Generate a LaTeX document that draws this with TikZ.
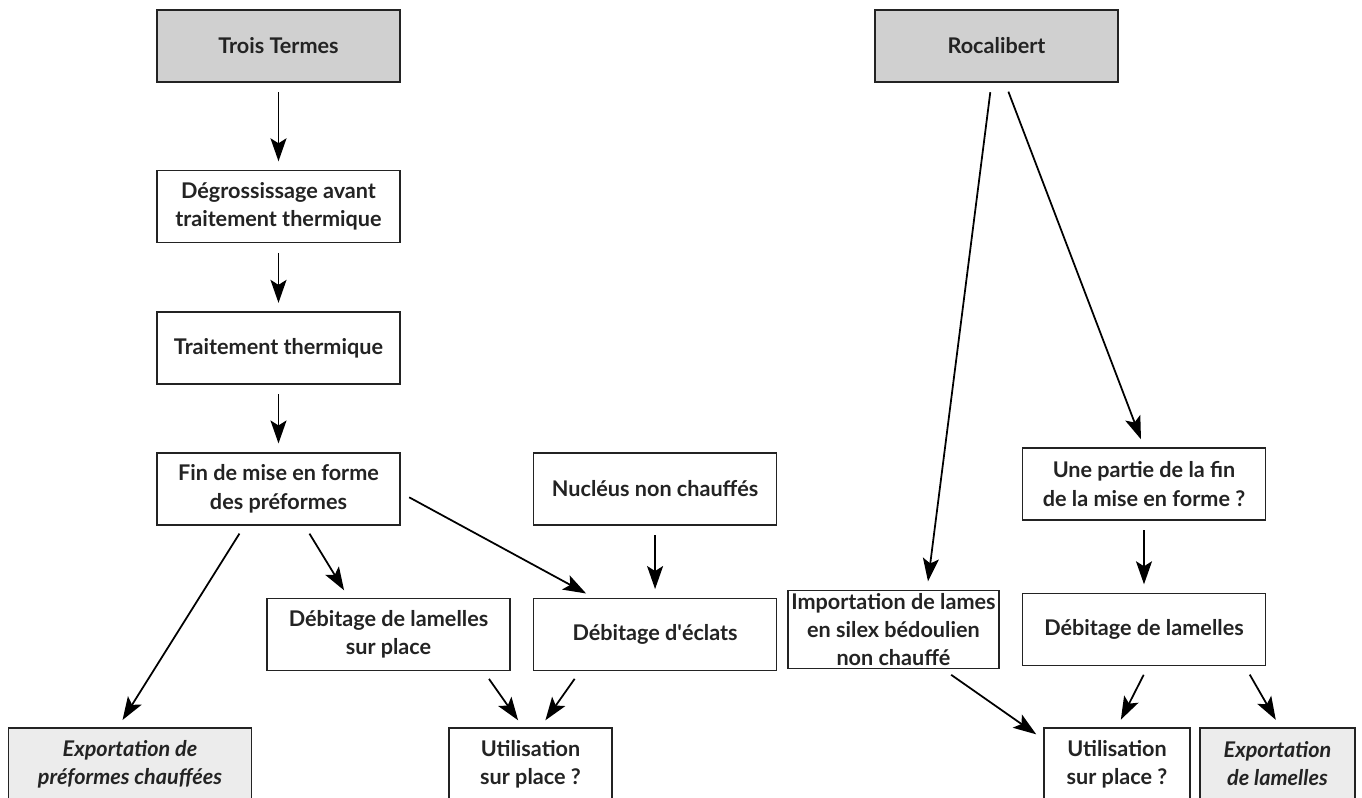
\documentclass[tikz,border=0pt]{standalone}
\usepackage{fontspec}
\setmainfont{Lato}
\usepackage{xcolor}
\usepackage{tikz}
\usetikzlibrary{arrows.meta,positioning,calc}
\definecolor{ink}{RGB}{35,35,35}
\definecolor{site-grey}{RGB}{208,208,208}
\definecolor{export-grey}{RGB}{236,236,236}

\begin{document}
\begin{tikzpicture}[
    font=\fontsize{12.3}{16}\selectfont\bfseries,
    text=ink,
    box/.style={rectangle, draw=ink, line width=0.9pt, fill=white, minimum width=4.86cm, minimum height=1.44cm, align=center, inner sep=2pt},
    site/.style={box, fill=site-grey},
    export/.style={box, fill=export-grey, font=\fontsize{12.3}{16}\selectfont\bfseries\itshape},
    arrow/.style={-{Stealth[length=4.6mm, width=3.2mm, inset=1mm, fill=black]}, line width=1pt, draw=black, shorten <=0.19cm, shorten >=0.17cm}
]
\useasboundingbox (0,0) rectangle (27.24,-15.96);

% Sites
\node[site] at (5.57,-0.92) (trois) {Trois Termes};
\node[site] at (19.93,-0.92) (rocal) {Rocalibert};

% Trois Termes chain
\node[box, below=1.74cm of trois] (degros) {Dégrossissage avant\\traitement thermique};
\node[box, below=1.36cm of degros] (trait) {Traitement thermique};
\node[box, below=1.34cm of trait] (fin) {Fin de mise en forme\\des préformes};
\node[box, right=2.64cm of fin] (nucleus) {Nucléus non chauffés};
\node[box, below=1.44cm of fin, xshift=2.2cm] (deblam) {Débitage de lamelles\\sur place};
\node[box, below=1.44cm of nucleus] (eclats) {Débitage d\textquotesingle éclats};

% Rocalibert chain
\node[box] at (22.88,-9.68) (partie) {Une partie de la fin\\de la mise en forme ?};
\node[box, below=1.44cm of partie] (deblamr) {Débitage de lamelles};
\node[box, minimum width=4.22cm, minimum height=1.56cm, inner sep=1pt, left=0.44cm of deblamr] (import) {Importation de lames\\en silex bédoulien\\non chauffé};

% Bottom row
\node[export] at (2.6,-15.28) (export1) {Exportation de\\préformes chauffées};
\node[box, minimum width=3.26cm] at (10.61,-15.28) (util1) {Utilisation\\sur place ?};
\node[box, minimum width=2.92cm] at (22.34,-15.28) (util2) {Utilisation\\sur place ?};
\node[export, minimum width=3.1cm] at (25.55,-15.28) (export2) {Exportation\\de lamelles};

% Arrows
\draw[arrow] (trois) -- (degros);
\draw[arrow] (degros) -- (trait);
\draw[arrow] (trait) -- (fin);
\draw[arrow] ([xshift=-0.68cm]fin.south) -- ([xshift=-0.24cm]export1.north);
\draw[arrow] ([xshift=0.52cm]fin.south) -- ([xshift=-0.8cm]deblam.north);
\draw[arrow] ([yshift=-0.08cm]fin.east) -- ([xshift=-1.23cm]eclats.north);
\draw[arrow] (nucleus) -- (eclats);
\draw[arrow] ([xshift=1.9cm]deblam.south) -- ([xshift=-0.15cm]util1.north);
\draw[arrow] ([xshift=-1.5cm]eclats.south) -- ([xshift=0.2cm]util1.north);
\draw[arrow] ([xshift=-0.1cm]rocal.south) -- ([xshift=0.67cm]import.north);
\draw[arrow] ([xshift=0.17cm]rocal.south) -- (partie.north);
\draw[arrow] (partie) -- (deblamr);
\draw[arrow] ([xshift=1cm]import.south) -- ([yshift=-0.24cm]util2.north west);
\draw[arrow] ([xshift=0.08cm]deblamr.south) -- (util2.north);
\draw[arrow] ([xshift=2.02cm]deblamr.south) -- ([xshift=0.05cm]export2.north);

\end{tikzpicture}
\end{document}
